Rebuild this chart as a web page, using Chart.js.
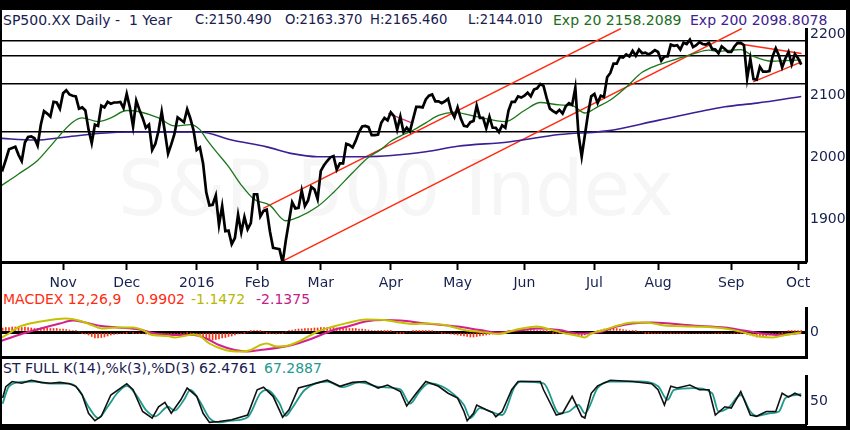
<!DOCTYPE html>
<html lang="en">
<head>
<meta charset="UTF-8">
<title>SP500.XX Daily - 1 Year</title>
<script src="https://cdn.jsdelivr.net/npm/chart.js"></script>
<style>
  body { margin: 0; width: 850px; height: 430px; background: #000; overflow: hidden; position: relative; font-family: "DejaVu Sans", sans-serif; }
  #frame { position: absolute; left: 2px; top: 10px; width: 844px; height: 416px; background: #fff; }
  .t { position: absolute; font-size: 14px; line-height: 16px; white-space: pre; color: #17204f; }
  .n { font-size: 13.2px; }
  #mark { position: absolute; left: 118px; top: 151px; font-size: 76px; line-height: 76px; color: #f6f6f6; white-space: pre; }
  canvas { position: absolute; left: 2px; }
</style>
</head>
<body>
<div id="frame"></div>
<div id="mark">S&amp;P 500 Index</div>

<span class="t" style="left:3px;top:12px">SP500.XX Daily -  1 Year</span>
<span class="t n" style="left:195px;top:12px">C:2150.490</span>
<span class="t n" style="left:285px;top:12px">O:2163.370</span>
<span class="t n" style="left:370px;top:12px">H:2165.460</span>
<span class="t n" style="left:468px;top:12px">L:2144.010</span>
<span class="t" style="left:553px;top:12px;color:#1b6e1b">Exp 20 2158.2089</span>
<span class="t" style="left:690px;top:12px;color:#3d2190">Exp 200 2098.8078</span>

<span class="t" style="left:3px;top:291px;color:#ff2a10">MACDEX 12,26,9</span>
<span class="t" style="left:136px;top:291px;color:#ff2a10">0.9902</span>
<span class="t" style="left:191px;top:291px;color:#b8b800">-1.1472</span>
<span class="t" style="left:256px;top:291px;color:#c4208a">-2.1375</span>

<span class="t" style="left:3px;top:360px">ST FULL K(14),%k(3),%D(3)</span>
<span class="t" style="left:199px;top:360px">62.4761</span>
<span class="t" style="left:264px;top:360px;color:#1d9a8c">67.2887</span>

<canvas id="main" width="844" height="262" style="top:28px"></canvas>
<canvas id="macd" width="844" height="52" style="top:307px"></canvas>
<canvas id="stoch" width="844" height="52" style="top:375px"></canvas>

<script>
  // trading-day index: 0 = 2 Nov 2015, first close is 5 Oct 2015
  const firstDay = -20;
  const monthDays = [0, 20, 42, 61, 81, 103, 124, 145, 167, 187, 210, 231];
  const monthLabels = ['Nov', 'Dec', '2016', 'Feb', 'Mar', 'Apr', 'May', 'Jun', 'Jul', 'Aug', 'Sep', 'Oct'];
  const priceLabels = [1900, 2000, 2100, 2200];
  const levels = [2189.6, 2165.3, 2119.9, 2041.3];

  const closes = [
    1987, 1980, 1996, 2013, 2015, 2017, 2004, 1994, 2024, 2033, 2034, 2031, 2019, 2053, 2075, 2071, 2066, 2090, 2089, 2079,
    2104, 2109, 2102, 2100, 2099, 2079, 2081, 2076, 2045, 2023, 2053, 2051, 2084, 2081, 2090, 2087, 2089, 2089, 2090, 2080,
    2103, 2081, 2050, 2092, 2077, 2064, 2048, 2053, 2012, 2022, 2043, 2074, 2041, 2006, 2021, 2038, 2065, 2061, 2057, 2078, 2063, 2044,
    2012, 2016, 1990, 1943, 1922, 1923, 1938, 1890, 1921, 1880, 1881, 1859, 1869, 1907, 1878, 1903, 1883, 1893, 1940,
    1940, 1904, 1913, 1915, 1880, 1853, 1852, 1851, 1829, 1865, 1896, 1927, 1917, 1918, 1946, 1921, 1930, 1952, 1948, 1932,
    1978, 1987, 1994, 2000, 2002, 1980, 1990, 1990, 2022, 2020, 2016, 2027, 2041, 2050, 2051, 2049, 2036, 2036, 2037, 2056, 2064, 2060,
    2073, 2067, 2045, 2066, 2041, 2048, 2042, 2062, 2082, 2082, 2081, 2094, 2100, 2102, 2091, 2091, 2088, 2091, 2095, 2075, 2065,
    2081, 2063, 2051, 2050, 2057, 2059, 2084, 2064, 2064, 2047, 2066, 2048, 2048, 2041, 2052, 2048, 2076, 2090, 2090, 2099, 2097,
    2100, 2105, 2099, 2110, 2112, 2119, 2116, 2096, 2079, 2075, 2072, 2077, 2071, 2083, 2088, 2085, 2113, 2037, 2001, 2036, 2071, 2099,
    2103, 2088, 2100, 2098, 2130, 2137, 2152, 2152, 2163, 2162, 2167, 2164, 2173, 2165, 2175, 2169, 2170, 2167, 2170, 2174,
    2171, 2157, 2164, 2164, 2183, 2181, 2182, 2175, 2186, 2184, 2191, 2179, 2182, 2187, 2184, 2183, 2186, 2176, 2175, 2169, 2180, 2176, 2171,
    2171, 2180, 2186, 2186, 2182, 2128, 2160, 2127, 2126, 2147, 2139, 2139, 2140, 2164, 2177, 2165, 2146, 2160, 2171, 2151, 2168,
    2161, 2150.49
  ];

  const ema20Days = [-20, -14, -8, -5, -2, 0, 3, 6, 11, 15, 20, 24, 30, 35, 40, 43, 45, 48, 52, 56, 60, 65, 70, 74, 80, 85, 91, 96, 100, 103, 107, 110, 114, 118, 123, 130, 139, 145, 150, 156, 160, 164, 168, 172, 177, 182, 187, 193, 198, 203, 206, 210, 213, 217, 223, 227, 232];
  const ema20Values = [1952, 1973, 1995, 2012, 2030, 2042, 2057, 2064, 2058, 2064, 2076, 2074, 2064, 2051, 2053, 2045, 2030, 2010, 1985, 1955, 1932, 1922, 1897, 1903, 1920, 1943, 1975, 2000, 2013, 2026, 2037, 2044, 2056, 2068, 2073, 2066, 2058, 2076, 2089, 2085, 2084, 2072, 2082, 2093, 2114, 2138, 2150, 2160, 2168, 2174, 2172, 2174, 2175, 2164, 2156, 2157, 2158.2];

  const ema200Days = [-20, -9, 1, 12, 22, 43, 53, 64, 72, 80, 95, 114, 124, 140, 156, 171, 187, 208, 218, 232];
  const ema200Values = [2031, 2028, 2033, 2039, 2041, 2041, 2028, 2017, 2006, 2001, 2001, 2009, 2018, 2025, 2037, 2043, 2060, 2082, 2088, 2098.8];

  // trend lines: [startDay, startValue, endDay, endValue]
  const trendLines = [
    [62.9, 1917.2, 175.3, 2209.1],
    [68.7, 1830.6, 213.3, 2209.1],
    [102.2, 2071.2, 109.6, 2056.0],
    [211.7, 2184.8, 232.1, 2168.5],
    [216.9, 2122.5, 232.1, 2154.9]
  ];
  const trendColors = ['#ff2a10', '#ff2a10', '#e0308c', '#ff2a10', '#ff2a10'];

  const macdDays = [-20, -17, -14, -7, 1, 5, 9, 12, 17, 22, 25, 28, 33, 35, 38, 41, 43, 46, 51, 56, 59, 62, 64, 67, 70, 75, 80, 85, 90, 95, 101, 106, 110, 114, 120, 126, 133, 137, 142, 149, 153, 158, 162, 164, 166, 170, 175, 179, 183, 189, 198, 208, 214, 219, 223, 227, 232];
  const macdValues = [-13, -3, 10, 21, 27, 23, 14, 7, 9, 9, 4, -6, -8, -11, -8, -5, -8, -23, -36, -39, -36, -26, -23, -29, -28, -16, 1, 11, 19, 25, 24, 19, 16, 17, 14, 4, -1, -4, 4, 11, 5, -3, -8, -11, -3, 4, 14, 19, 19, 13, 11, 7, -1, -9, -11, -6, -1.1];
  const signalDays = [-20, -14, -7, -1, 3, 7, 12, 17, 24, 29, 35, 41, 45, 49, 54, 58, 62, 68, 72, 77, 81, 85, 90, 95, 101, 106, 114, 124, 131, 137, 143, 149, 156, 162, 168, 174, 179, 185, 198, 208, 214, 221, 225, 232];
  const signalValues = [-19, -6, 7, 17, 23, 19, 12, 9, 5, -3, -6, -6, -13, -26, -36, -39, -36, -31, -26, -16, -6, 4, 12, 21, 24, 23, 17, 11, 4, -1, 3, 7, 4, -3, -1, 11, 17, 19, 13, 9, 3, -4, -6, -2.1];
  const macdHist = [
    8, 8, 9, 9, 10, 10, 9, 9, 10, 9, 8, 7, 7, 8, 9, 8, 7, 7, 7, 6,
    6, 5, 4, 3, 2, 0, -2, -4, -6, -9, -12, -12, -11, -10, -8, -6, -5, -4, -3, -2,
    -1, 0, -1, -3, -2, -3, -4, -5, -5, -4, -3, -5, -6, -7, -6, -5, -3, -2, -2, -1, -2, -4,
    -7, -9, -12, -14, -16, -16, -15, -14, -12, -11, -9, -8, -6, -4, -3, -1, 0, 1, 2,
    2, 1, 0, -1, -2, -3, -4, -3, -2, 0, 2, 4, 5, 6, 6, 7, 7, 7, 8, 8,
    9, 9, 9, 9, 9, 8, 8, 8, 7, 7, 7, 7, 6, 6, 5, 4, 3, 3, 2, 2, 1, 1,
    1, 0, -1, -1, -1, 0, 0, 1, 1, 1, 1, 1, 1, 1, 0, 0, -1, -2, -3, -4, -5,
    -6, -7, -8, -9, -10, -10, -9, -8, -7, -6, -5, -4, -3, -2, -1, 0, 1, 2, 3, 3, 4,
    4, 5, 5, 5, 4, 3, 2, 1, 0, -1, -2, -3, -3, -4, -4, -4, -5, -7, -8, -6, -4, -2,
    0, 2, 4, 6, 7, 8, 8, 7, 6, 5, 4, 3, 2, 1, 0, 0, -1, -1, -2, -2,
    -2, -2, -3, -3, -2, -2, -2, -2, -2, -3, -3, -3, -3, -3, -3, -3, -3, -3, -2, -2, -2, -3, -3,
    -3, -2, -2, -2, -2, -5, -6, -8, -10, -10, -9, -8, -6, -5, -3, -2, -1, 0, 1, 1, 1,
    1, 0.99
  ];

  const kDays = [-19, -18, -16, -13, -10, -7, -4, -1, 2, 4, 6, 8, 10, 12, 15, 20, 22, 25, 28, 30, 32, 34, 37, 39, 42, 44, 46, 49, 53, 58, 61, 63, 66, 69, 71, 74, 79, 83, 87, 91, 95, 99, 102, 106, 108, 111, 114, 118, 121, 124, 126, 127, 129, 130, 133, 135, 136, 138, 141, 143, 150, 151, 155, 157, 160, 163, 164, 166, 168, 172, 179, 185, 187, 189, 191, 193, 197, 200, 203, 205, 208, 210, 213, 216, 218, 221, 224, 226, 228, 230, 232];
  const kValues = [58, 84, 96, 92, 99, 94, 92, 94, 91, 85, 65, 23, 6, 16, 65, 91, 77, 27, 12, 38, 48, 23, 54, 81, 62, 23, 2, 4, 8, 19, 77, 83, 62, 14, 31, 81, 91, 99, 85, 94, 96, 81, 88, 73, 40, 69, 96, 85, 69, 58, 27, 6, 23, 42, 31, 25, 15, 27, 77, 96, 96, 77, 19, 23, 62, 16, 12, 69, 86, 99, 96, 91, 77, 42, 85, 81, 88, 77, 77, 19, 38, 35, 73, 19, 16, 27, 27, 69, 60, 69, 62.48];
  const dDays = [-19, -17, -13, -9, -4, 2, 5, 8, 11, 14, 17, 20, 23, 26, 29, 33, 35, 38, 40, 43, 46, 49, 53, 58, 62, 64, 68, 70, 72, 76, 83, 88, 93, 100, 106, 109, 112, 115, 119, 123, 126, 128, 131, 135, 138, 142, 144, 151, 156, 159, 162, 164, 168, 172, 181, 187, 190, 192, 198, 204, 206, 209, 213, 216, 218, 222, 225, 227, 230, 232];
  const dValues = [45, 85, 95, 96, 91, 91, 77, 38, 12, 38, 69, 86, 65, 31, 16, 38, 29, 54, 77, 50, 12, 2, 6, 14, 69, 77, 46, 17, 35, 77, 96, 83, 94, 83, 78, 45, 73, 92, 85, 65, 42, 12, 35, 25, 19, 85, 96, 92, 23, 27, 42, 23, 81, 96, 96, 85, 54, 77, 81, 69, 27, 35, 65, 27, 17, 23, 27, 58, 65, 67.29];

  const xMin = -19.2, xMax = 233.5;
  const ink = '#17204f';

  Chart.defaults.font.family = '"DejaVu Sans", sans-serif';
  Chart.defaults.font.size = 14;

  const daily = vals => vals.map((y, k) => ({ x: firstDay + k, y }));
  const pts = (xs, ys) => xs.map((x, k) => ({ x, y: ys[k] }));
  const line = (data, color, width, smooth) => ({
    data, borderColor: color, borderWidth: width, pointRadius: 0,
    cubicInterpolationMode: smooth ? 'monotone' : 'default', tension: 0
  });

  function xAxis(withLabels) {
    return {
      type: 'linear', min: xMin, max: xMax, offset: false,
      afterBuildTicks: s => { s.ticks = withLabels ? monthDays.map(v => ({ value: v })) : []; },
      afterFit: s => { s.height = withLabels ? 28 : 2; s.paddingLeft = 0; s.paddingRight = 0; },
      ticks: {
        display: withLabels, color: ink, padding: 5, maxRotation: 0, autoSkip: false,
        callback: (v, i) => monthLabels[i]
      },
      grid: { drawOnChartArea: false, drawTicks: withLabels, tickLength: 8, tickWidth: 2, tickColor: '#000', offset: false },
      border: { display: true, color: '#000', width: 3 }
    };
  }

  function yAxis(min, max, tickValues, labels, gridColor, gridWidth) {
    return {
      position: 'right', min, max,
      afterBuildTicks: s => { s.ticks = tickValues.map(v => ({ value: v })); },
      afterFit: s => { s.width = 40; s.paddingTop = 0; s.paddingBottom = 0; },
      ticks: {
        color: ink, padding: 4, autoSkip: false,
        callback: v => labels.includes(v) ? String(v) : ''
      },
      grid: { drawTicks: false, color: gridColor, lineWidth: gridWidth },
      border: { display: true, color: '#000', width: 3 }
    };
  }

  const base = {
    responsive: false, animation: false, events: [],
    layout: { padding: 0 },
    plugins: { legend: { display: false }, tooltip: { enabled: false } }
  };

  new Chart(document.getElementById('main'), {
    type: 'line',
    data: {
      datasets: [
        line(daily(closes), '#000', 2.7, false),
        line(pts(ema20Days, ema20Values), '#1a781a', 1.3, true),
        line(pts(ema200Days, ema200Values), '#3a1f95', 1.6, true),
        ...trendLines.map((t, k) => line([{ x: t[0], y: t[1] }, { x: t[2], y: t[3] }], trendColors[k], 1.4, false))
      ]
    },
    options: {
      ...base,
      scales: {
        x: xAxis(true),
        y: yAxis(1830, 2210, priceLabels.concat(levels), priceLabels,
          c => levels.includes(c.tick && c.tick.value) ? '#000' : 'rgba(0,0,0,0)', 1.5)
      }
    }
  });

  new Chart(document.getElementById('macd'), {
    type: 'line',
    data: {
      datasets: [
        line(pts(macdDays, macdValues), '#c2c200', 2, true),
        line(pts(signalDays, signalValues), '#d4208c', 2, true),
        { type: 'bar', data: daily(macdHist), backgroundColor: '#ff3010', barThickness: 1, order: 5 }
      ]
    },
    options: {
      ...base,
      scales: {
        x: xAxis(false),
        y: yAxis(-50, 50, [0], [0], '#000', 3)
      }
    }
  });

  new Chart(document.getElementById('stoch'), {
    type: 'line',
    data: {
      datasets: [
        line(pts(kDays, kValues), '#111', 1.6, false),
        line(pts(dDays, dValues), '#1d9a8c', 1.8, true)
      ]
    },
    options: {
      ...base,
      scales: {
        x: xAxis(false),
        y: yAxis(-4, 111, [50], [50], 'rgba(0,0,0,0)', 0)
      }
    }
  });
</script>
</body>
</html>
